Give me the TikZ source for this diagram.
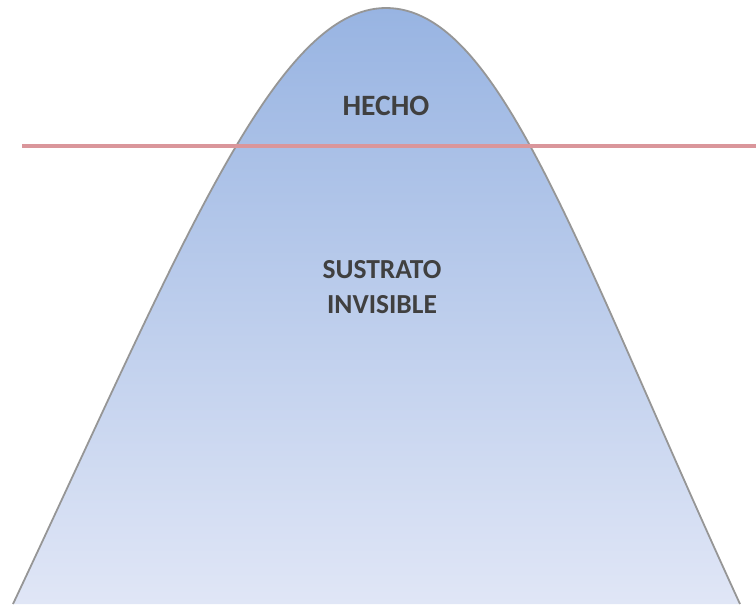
\documentclass[tikz,border=0pt]{standalone}
\usepackage{fontspec}
\setmainfont{Carlito}
\definecolor{topblue}{RGB}{152,180,226}
\definecolor{botblue}{RGB}{224,230,246}
\definecolor{edgegray}{RGB}{150,150,150}
\definecolor{linered}{RGB}{218,150,155}
\definecolor{txtgray}{RGB}{64,64,64}
\tikzset{
  label text/.style={font=\bfseries\fontsize{27.5}{35}\selectfont, text=txtgray, align=center, inner sep=0pt},
}
\begin{document}
\begin{tikzpicture}[x=1pt,y=-1pt]
\useasboundingbox (0,0) rectangle (756,606);
\coordinate (bl) at (13,604);
\coordinate (pk) at (386,8);
\coordinate (br) at (740,604);
\draw[edgegray, line width=1.8pt, top color=topblue, bottom color=botblue, shading angle=0]
  (bl) .. controls (180,250) and (275,8) .. (pk)
       .. controls (500,8) and (577,250) .. (br);
\coordinate (la) at (22,146);
\coordinate (lb) at (756,146);
\draw[linered, line width=3.5pt] (la) -- (lb);
\node[label text, font=\bfseries\fontsize{29.5}{35}\selectfont] (hecho) at (386,106) {HECHO};
\node[label text] (sust) at (382,287) {SUSTRATO\\INVISIBLE};
\end{tikzpicture}
\end{document}
